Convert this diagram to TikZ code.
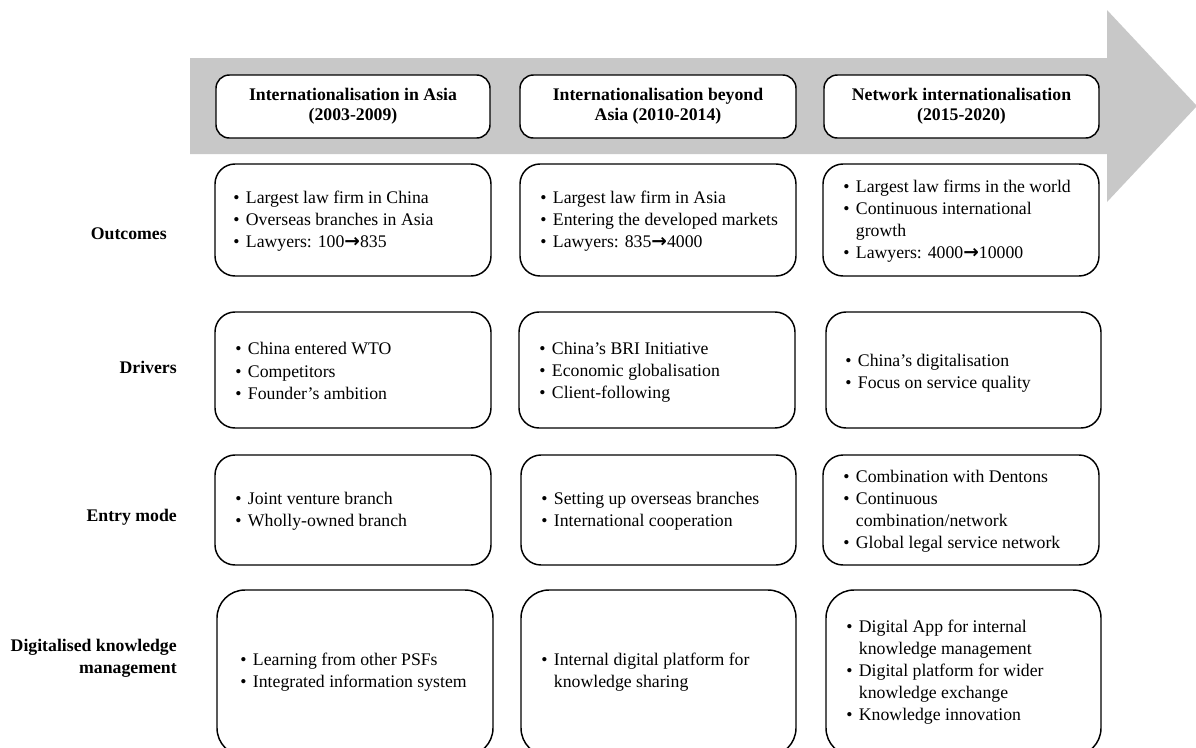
\documentclass[tikz,border=0pt]{standalone}
\usepackage{fontspec}
\setmainfont{Liberation Serif}
\newfontfamily\arrowfont[Scale=1.05]{DejaVu Sans}
\usetikzlibrary{fit}
\newcommand\bl{\makebox[9.5pt][l]{\textbullet}}
\newcommand\cont{\hspace*{9.5pt}}
\newcommand\rarr{{\arrowfont\bfseries →}}
\definecolor{arrowgray}{RGB}{200,200,200}
\begin{document}
\begin{tikzpicture}[x=0.75pt,y=-0.75pt,
  every node/.style={font=\fontsize{13.3}{16.6}\selectfont},
  boxbase/.style={draw=black, line width=1.1pt, fill=white, inner sep=0pt},
  hbox/.style={boxbase, rounded corners=10pt},
  cbox/.style={boxbase, rounded corners=15pt},
  dbox/.style={boxbase, rounded corners=21pt},
  htxt/.style={inner sep=0pt, align=center, font=\fontsize{13.3}{14.8}\selectfont\bfseries},
  btxt/.style={inner sep=0pt, align=left, anchor=west},
  lab/.style={inner sep=0pt, align=right, anchor=east, font=\fontsize{13.3}{16.5}\selectfont\bfseries}
]
\path[clip] (0,0) rectangle (1196,747);

% big arrow
\fill[arrowgray] (190,58) -- (1107,58) -- (1107,10) -- (1197,106) -- (1107,202) -- (1107,154) -- (190,154) -- cycle;

% header boxes
\node[hbox, fit={(216,75) (490,138)}] (h1) {};
\node[hbox, fit={(520,75) (796,138)}] (h2) {};
\node[hbox, fit={(824,75) (1099,138)}] (h3) {};
\node[htxt] (h1t) at (h1.center) {Internationalisation in Asia\\(2003-2009)};
\node[htxt] (h2t) at (h2.center) {Internationalisation beyond\\Asia (2010-2014)};
\node[htxt] (h3t) at (h3.center) {Network internationalisation\\(2015-2020)};

% row labels
\node[lab] (lout) at (167,234) {Outcomes};
\node[lab] (ldrv) at (177,367) {Drivers};
\node[lab] (lent) at (177,517) {Entry mode};
\node[lab] (ldig) at (177,658) {Digitalised knowledge\\management};

% outcomes
\node[cbox, fit={(215,164) (491,276)}] (o1) {};
\node[cbox, fit={(520,164) (796,276)}] (o2) {};
\node[cbox, fit={(823,164) (1099,276)}] (o3) {};
\node[btxt] (o1t) at (233,221) {\bl Largest law firm in China\\\bl Overseas branches in Asia\\\bl Lawyers: 100\rarr835};
\node[btxt] (o2t) at (540,221) {\bl Largest law firm in Asia\\\bl Entering the developed markets\\\bl Lawyers: 835\rarr4000};
\node[btxt] (o3t) at (843,221) {\bl Largest law firms in the world\\\bl Continuous international\\\cont growth\\\bl Lawyers: 4000\rarr10000};

% drivers
\node[cbox, fit={(215,312) (491,428)}] (d1) {};
\node[cbox, fit={(519,312) (795,428)}] (d2) {};
\node[cbox, fit={(826,312) (1101,428)}] (d3) {};
\node[btxt] (d1t) at (235,371) {\bl China entered WTO\\\bl Competitors\\\bl Founder's ambition};
\node[btxt] (d2t) at (539,372) {\bl China's BRI Initiative\\\bl Economic globalisation\\\bl Client-following};
\node[btxt] (d3t) at (845,373) {\bl China's digitalisation\\\bl Focus on service quality};

% entry mode
\node[cbox, fit={(215,455) (491,565)}] (e1) {};
\node[cbox, fit={(521,455) (796,565)}] (e2) {};
\node[cbox, fit={(823,455) (1099,565)}] (e3) {};
\node[btxt] (e1t) at (235,511) {\bl Joint venture branch\\\bl Wholly-owned branch};
\node[btxt] (e2t) at (541,511) {\bl Setting up overseas branches\\\bl International cooperation};
\node[btxt] (e3t) at (843,511) {\bl Combination with Dentons\\\bl Continuous\\\cont combination/network\\\bl Global legal service network};

% digitalised knowledge management
\node[dbox, fit={(217,590) (493,756)}] (k1) {};
\node[dbox, fit={(521,590) (796,756)}] (k2) {};
\node[dbox, fit={(826,590) (1101,756)}] (k3) {};
\node[btxt] (k1t) at (240,672) {\bl Learning from other PSFs\\\bl Integrated information system};
\node[btxt] (k2t) at (541,672) {\bl Internal digital platform for\\\cont knowledge sharing};
\node[btxt] (k3t) at (846,672) {\bl Digital App for internal\\\cont knowledge management\\\bl Digital platform for wider\\\cont knowledge exchange\\\bl Knowledge innovation};
\end{tikzpicture}
\end{document}
